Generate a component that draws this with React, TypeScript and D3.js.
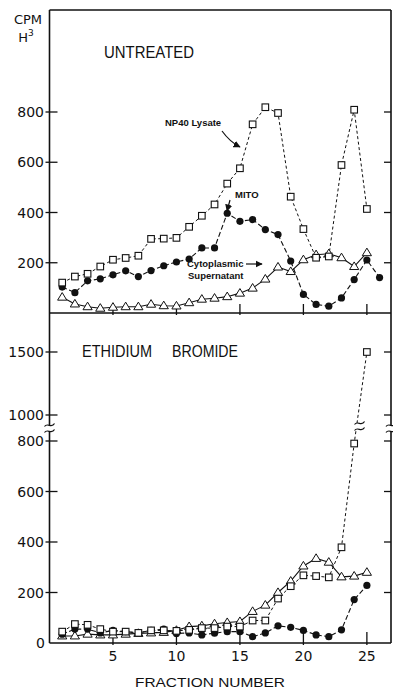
import * as d3 from 'd3';

// fraction numbers
const fractions25 = d3.range(1, 26);
const fractions26 = d3.range(1, 27);

// UNTREATED panel
const topLysate = [121, 145, 156, 185, 212, 219, 228, 295, 296, 299, 343, 387, 432, 515, 576, 751, 819, 796, 463, 334, 220, 225, 589, 809, 414];
const topMito = [103, 81, 128, 136, 152, 168, 145, 169, 188, 203, 215, 259, 259, 397, 365, 372, 332, 312, 207, 74, 34, 27, 60, 133, 211, 141];
const topCyto = [63, 36, 25, 19, 23, 25, 25, 35, 29, 28, 41, 55, 59, 65, 79, 99, 135, 183, 165, 212, 232, 236, 220, 185, 240];

// ETHIDIUM BROMIDE panel
const botLysate = [45, 75, 72, 55, 45, 45, 40, 50, 50, 48, 52, 59, 59, 65, 65, 89, 89, 176, 225, 268, 265, 260, 379, 790, 1500];
const botMito = [35, 55, 55, 40, 50, 45, 40, 50, 55, 38, 40, 32, 39, 45, 45, 25, 40, 68, 62, 50, 32, 25, 52, 172, 228];
const botCyto = [28, 28, 35, 32, 32, 35, 38, 40, 42, 50, 65, 68, 76, 81, 85, 125, 150, 200, 245, 305, 335, 320, 262, 265, 280];

const topTicks = [200, 400, 600, 800];
const botTicks = [0, 200, 400, 600, 800, 1000, 1500];
const xTicks = [5, 10, 15, 20, 25];

const W = 393;
const H = 692;
const left = 49.5;
const right = 391;
const topY = 10;
const midY = 313;
const botY = 643;

const x = d3.scaleLinear().domain([0, 26.9]).range([left, right]);
const yTop = d3.scaleLinear().domain([0, 800]).range([midY, 112]);
// broken axis: 800 -> 1000 squeezed
const yBot = d3.scaleLinear().domain([0, 800, 1000, 1500]).range([botY, 441, 415, 352]);

const tickFont = 'DejaVu Sans, sans-serif';
const labelFont = 'Liberation Sans, Arial, sans-serif';

function Squares({ xs, vals, y }: { xs: number[]; vals: number[]; y: d3.ScaleLinear<number, number> }) {
  return (
    <g>
      {vals.map((v, i) => (
        <rect key={i} x={x(xs[i]) - 3.3} y={y(v) - 3.3} width={6.6} height={6.6} fill="#fff" stroke="#111" strokeWidth={1.1} />
      ))}
    </g>
  );
}

function Dots({ xs, vals, y }: { xs: number[]; vals: number[]; y: d3.ScaleLinear<number, number> }) {
  return (
    <g>
      {vals.map((v, i) => (
        <circle key={i} cx={x(xs[i])} cy={y(v)} r={3.6} fill="#111" />
      ))}
    </g>
  );
}

function Triangles({ xs, vals, y }: { xs: number[]; vals: number[]; y: d3.ScaleLinear<number, number> }) {
  return (
    <g>
      {vals.map((v, i) => {
        const cx = x(xs[i]);
        const cy = y(v);
        return (
          <path key={i} d={`M${cx},${cy - 4.6} L${cx + 4.6},${cy + 3} L${cx - 4.6},${cy + 3} Z`} fill="#fff" stroke="#111" strokeWidth={1} />
        );
      })}
    </g>
  );
}

function linePath(xs: number[], vals: number[], y: d3.ScaleLinear<number, number>) {
  return d3.line<number>().x((_, i) => x(xs[i])).y(v => y(v))(vals) || '';
}

function BreakMark({ cx, cy }: { cx: number; cy: number }) {
  const s = (dy: number) => `M${cx - 5},${cy + dy + 1.5} C${cx - 2},${cy + dy - 3} ${cx + 2},${cy + dy + 4} ${cx + 5},${cy + dy - 1.5}`;
  return (
    <g>
      <rect x={cx - 5} y={cy - 3} width={10} height={6} fill="#fff" />
      <path d={s(-3)} fill="none" stroke="#111" strokeWidth={1.2} />
      <path d={s(3)} fill="none" stroke="#111" strokeWidth={1.2} />
    </g>
  );
}

export default function App() {
  const ink = '#111';
  return (
    <div style={{ position: 'absolute', left: 0, top: 0, background: '#fff' }}>
      <svg width={W} height={H} viewBox={`0 0 ${W} ${H}`} style={{ display: 'block' }}>
        <defs>
          <marker id="arr" viewBox="0 0 10 10" refX="9" refY="5" markerWidth="6" markerHeight="6" orient="auto">
            <path d="M0,0 L10,5 L0,10 Z" fill={ink} />
          </marker>
        </defs>
        <rect width={W} height={H} fill="#fff" />

        {/* frames */}
        <g stroke={ink} strokeWidth={1.6} fill="none">
          <line x1={left} y1={topY} x2={left} y2={botY} />
          <line x1={right} y1={topY} x2={right} y2={botY} />
          <line x1={left} y1={topY} x2={right} y2={topY} />
          <line x1={left} y1={midY} x2={right} y2={midY} />
          <line x1={left} y1={botY} x2={right} y2={botY} />
        </g>

        {/* y ticks top panel */}
        <g stroke={ink} strokeWidth={1.3}>
          {topTicks.map(t => (
            <g key={t}>
              <line x1={left - 4} x2={left + 8} y1={yTop(t)} y2={yTop(t)} />
              <line x1={right - 7} x2={right} y1={yTop(t)} y2={yTop(t)} />
            </g>
          ))}
          {botTicks.filter(t => t > 0).map(t => (
            <g key={t}>
              <line x1={left - 4} x2={left + 8} y1={yBot(t)} y2={yBot(t)} />
              <line x1={right - 7} x2={right} y1={yBot(t)} y2={yBot(t)} />
            </g>
          ))}
          {xTicks.map(t => (
            <g key={t}>
              <line x1={x(t)} x2={x(t)} y1={midY + 2} y2={midY - 9} />
              <line x1={x(t)} x2={x(t)} y1={botY + 2} y2={botY - 11} />
            </g>
          ))}
        </g>

        <g fontFamily={tickFont} fontSize={14} fill={ink} textAnchor="end">
          {topTicks.map(t => (
            <text key={t} x={44} y={yTop(t) + 5}>{t}</text>
          ))}
          {botTicks.map(t => (
            <text key={t} x={t === 0 ? 45 : 44} y={yBot(t) + 5}>{t}</text>
          ))}
        </g>
        <g fontFamily={tickFont} fontSize={14} fill={ink} textAnchor="middle">
          {xTicks.map(t => (
            <text key={t} x={x(t)} y={661}>{t}</text>
          ))}
        </g>

        {/* axis titles */}
        <text x={28} y={24} fontFamily={tickFont} fontSize={13} textAnchor="middle" fill={ink}>CPM</text>
        <text x={26} y={42} fontFamily={tickFont} fontSize={13} textAnchor="middle" fill={ink}>H<tspan dy={-6} fontSize={9}>3</tspan></text>
        <text x={210} y={687} fontFamily={labelFont} fontSize={13} textAnchor="middle" fill={ink} textLength={150} lengthAdjust="spacingAndGlyphs">FRACTION NUMBER</text>

        {/* panel titles */}
        <text x={104} y={58} fontFamily={labelFont} fontSize={16} fill={ink} textLength={90} lengthAdjust="spacingAndGlyphs">UNTREATED</text>
        <text x={82} y={357} fontFamily={labelFont} fontSize={16} fill={ink} textLength={70} lengthAdjust="spacingAndGlyphs">ETHIDIUM</text>
        <text x={172} y={357} fontFamily={labelFont} fontSize={16} fill={ink} textLength={66} lengthAdjust="spacingAndGlyphs">BROMIDE</text>

        {/* UNTREATED series */}
        <path d={linePath(fractions25, topCyto, yTop)} fill="none" stroke={ink} strokeWidth={1.1} />
        <path d={linePath(fractions26, topMito, yTop)} fill="none" stroke={ink} strokeWidth={1.1} strokeDasharray="5,2.5" />
        <path d={linePath(fractions25, topLysate, yTop)} fill="none" stroke={ink} strokeWidth={1} strokeDasharray="3,2.5" />
        <Triangles xs={fractions25} vals={topCyto} y={yTop} />
        <Dots xs={fractions26} vals={topMito} y={yTop} />
        <Squares xs={fractions25} vals={topLysate} y={yTop} />

        {/* ETHIDIUM BROMIDE series */}
        <path d={linePath(fractions25, botCyto, yBot)} fill="none" stroke={ink} strokeWidth={1.1} />
        <path d={linePath(fractions25, botMito, yBot)} fill="none" stroke={ink} strokeWidth={1.1} strokeDasharray="5,2.5" />
        <path d={linePath(fractions25, botLysate, yBot)} fill="none" stroke={ink} strokeWidth={1} strokeDasharray="3,2.5" />
        <Triangles xs={fractions25} vals={botCyto} y={yBot} />
        <Dots xs={fractions25} vals={botMito} y={yBot} />
        <Squares xs={fractions25} vals={botLysate} y={yBot} />

        {/* axis breaks */}
        <BreakMark cx={left} cy={428} />
        <BreakMark cx={right} cy={428} />
        <BreakMark cx={(x(24) + x(25)) / 2 - 1} cy={426} />

        {/* annotations */}
        <g fontFamily={labelFont} fontWeight="bold" fontSize={9.5} fill={ink}>
          <text x={165} y={126}>NP40  Lysate</text>
          <text x={235} y={198}>MITO</text>
          <text x={187} y={267}>Cytoplasmic</text>
          <text x={188} y={279}>Supernatant</text>
        </g>
        <g stroke={ink} strokeWidth={1.2} fill="none" markerEnd="url(#arr)">
          <path d="M222,131 Q230,142 240,147" />
          <path d="M230,200 L227,211" />
          <path d="M246,264 L262,264" />
        </g>
      </svg>
    </div>
  );
}
